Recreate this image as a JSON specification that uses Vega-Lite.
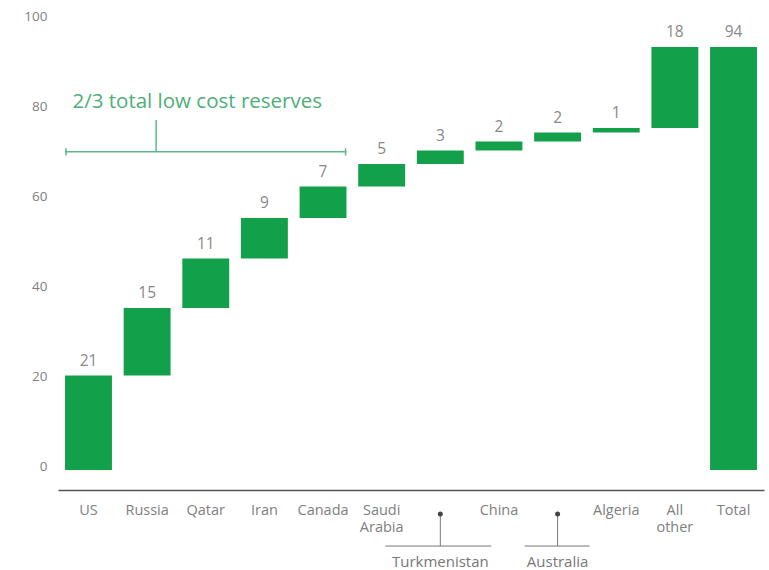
{
  "$schema": "https://vega.github.io/schema/vega-lite/v6.json",
  "width": 706,
  "height": 450,
  "autosize": {"type": "none"},
  "padding": {"left": 58, "top": 20, "right": 5, "bottom": 100},
  "background": "white",
  "config": {"view": {"stroke": null}, "font": "Open Sans"},
  "datasets": {
    "bars": [
      {"country": "US", "start": 0, "end": 21, "label": "21"},
      {"country": "Russia", "start": 21, "end": 36, "label": "15"},
      {"country": "Qatar", "start": 36, "end": 47, "label": "11"},
      {"country": "Iran", "start": 47, "end": 56, "label": "9"},
      {"country": "Canada", "start": 56, "end": 63, "label": "7"},
      {"country": "Saudi Arabia", "start": 63, "end": 68, "label": "5"},
      {"country": "Turkmenistan", "start": 68, "end": 71, "label": "3"},
      {"country": "China", "start": 71, "end": 73, "label": "2"},
      {"country": "Australia", "start": 73, "end": 75, "label": "2"},
      {"country": "Algeria", "start": 75, "end": 76, "label": "1"},
      {"country": "All other", "start": 76, "end": 94, "label": "18"},
      {"country": "Total", "start": 0, "end": 94, "label": "94"}
    ],
    "notes": [
      {"country": "Turkmenistan"},
      {"country": "Australia"}
    ],
    "one": [{"note": "2/3 total low cost reserves"}]
  },
  "data": {"name": "bars"},
  "encoding": {
    "x": {
      "field": "country",
      "type": "nominal",
      "sort": null,
      "scale": {
        "domain": ["US", "Russia", "Qatar", "Iran", "Canada", "Saudi Arabia", "Turkmenistan", "China", "Australia", "Algeria", "All other", "Total"],
        "paddingInner": 0.2,
        "paddingOuter": 0.12
      },
      "axis": {
        "title": null,
        "labelAngle": 0,
        "ticks": false,
        "offset": 20,
        "domainColor": "#555555",
        "domainWidth": 1.5,
        "labelColor": "#808080",
        "labelFontSize": 14.5,
        "labelPadding": 13,
        "labelLineHeight": 17,
        "labelBaseline": "top",
        "labelExpr": "datum.value == 'Saudi Arabia' ? ['Saudi','Arabia'] : datum.value == 'All other' ? ['All','other'] : (datum.value == 'Turkmenistan' || datum.value == 'Australia') ? '' : datum.value"
      }
    }
  },
  "layer": [
    {
      "mark": {"type": "bar", "color": "#12a04a"},
      "encoding": {
        "y": {
          "field": "start",
          "type": "quantitative",
          "scale": {"domain": [0, 100], "nice": false},
          "axis": {
            "title": null,
            "values": [0, 20, 40, 60, 80, 100],
            "ticks": false,
            "domain": false,
            "grid": false,
            "labelColor": "#808080",
            "labelFontSize": 13.5,
            "labelPadding": 11,
            "labelOffset": -4
          }
        },
        "y2": {"field": "end"}
      }
    },
    {
      "mark": {"type": "text", "baseline": "bottom", "dy": -7, "color": "#888888", "fontSize": 15.5},
      "encoding": {
        "y": {"field": "end", "type": "quantitative"},
        "text": {"field": "label"}
      }
    },
    {
      "data": {"name": "one"},
      "mark": {"type": "rule", "color": "#5cb88a", "strokeWidth": 1.5, "xOffset": -23.5, "x2Offset": 23.5},
      "encoding": {
        "x": {"datum": "US"},
        "x2": {"datum": "Canada"},
        "y": {"datum": 70.7}
      }
    },
    {
      "data": {"name": "one"},
      "mark": {"type": "rule", "color": "#5cb88a", "strokeWidth": 1.5, "xOffset": -22.5},
      "encoding": {
        "x": {"datum": "US"},
        "y": {"datum": 69.9},
        "y2": {"datum": 71.5}
      }
    },
    {
      "data": {"name": "one"},
      "mark": {"type": "rule", "color": "#5cb88a", "strokeWidth": 1.5, "xOffset": 22.5},
      "encoding": {
        "x": {"datum": "Canada"},
        "y": {"datum": 69.9},
        "y2": {"datum": 71.5}
      }
    },
    {
      "data": {"name": "one"},
      "mark": {"type": "rule", "color": "#5cb88a", "strokeWidth": 1.5, "xOffset": 9},
      "encoding": {
        "x": {"datum": "Russia"},
        "y": {"datum": 70.7},
        "y2": {"datum": 77.8}
      }
    },
    {
      "data": {"name": "one"},
      "mark": {"type": "text", "align": "left", "baseline": "middle", "xOffset": -16, "fontSize": 20.5, "color": "#4caf78"},
      "encoding": {
        "x": {"datum": "US"},
        "y": {"datum": 81.8},
        "text": {"field": "note"}
      }
    },
    {
      "data": {"name": "notes"},
      "mark": {"type": "rule", "color": "#777777", "strokeWidth": 1},
      "encoding": {
        "y": {"datum": -9.8},
        "y2": {"datum": -16.9}
      }
    },
    {
      "data": {"name": "notes"},
      "mark": {"type": "point", "filled": true, "color": "#444444", "size": 25, "opacity": 1},
      "encoding": {
        "y": {"datum": -9.8}
      }
    },
    {
      "data": {"name": "one"},
      "mark": {"type": "rule", "color": "#777777", "strokeWidth": 1, "xOffset": -55, "x2Offset": 51},
      "encoding": {
        "x": {"datum": "Turkmenistan"},
        "x2": {"datum": "Turkmenistan"},
        "y": {"datum": -16.9}
      }
    },
    {
      "data": {"name": "one"},
      "mark": {"type": "rule", "color": "#777777", "strokeWidth": 1, "xOffset": -33, "x2Offset": 32},
      "encoding": {
        "x": {"datum": "Australia"},
        "x2": {"datum": "Australia"},
        "y": {"datum": -16.9}
      }
    },
    {
      "data": {"name": "notes"},
      "mark": {"type": "text", "baseline": "middle", "color": "#777777", "fontSize": 15},
      "encoding": {
        "y": {"datum": -20.4},
        "text": {"field": "country"}
      }
    }
  ]
}
